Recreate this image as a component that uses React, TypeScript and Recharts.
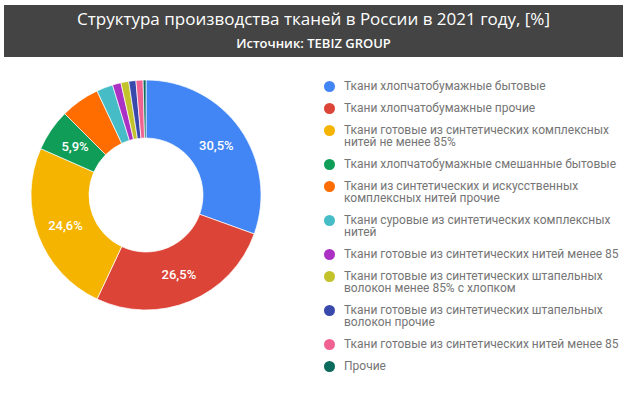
import React from 'react';
import { PieChart, Pie, Cell, Legend } from 'recharts';

const categories = [
  'Ткани хлопчатобумажные бытовые',
  'Ткани хлопчатобумажные прочие',
  'Ткани готовые из синтетических комплексных нитей не менее 85%',
  'Ткани хлопчатобумажные смешанные бытовые',
  'Ткани из синтетических и искусственных комплексных нитей прочие',
  'Ткани суровые из синтетических комплексных нитей',
  'Ткани готовые из синтетических нитей менее 85',
  'Ткани готовые из синтетических штапельных волокон менее 85% с хлопком',
  'Ткани готовые из синтетических штапельных волокон прочие',
  'Ткани готовые из синтетических нитей менее 85',
  'Прочие',
];

const shares = [30.5, 26.5, 24.6, 5.9, 5.5, 2.3, 1.2, 1.1, 1.0, 1.0, 0.4];

const COLORS = [
  '#4285f4', '#db4437', '#f4b400', '#0f9d58', '#ff6d01', '#46bdc6',
  '#ab30c4', '#c2c22b', '#3949ab', '#f06292', '#0b6b5c',
];

const TITLE = 'Структура производства тканей в России в 2021 году, [%]';
const SUBTITLE = 'Источник: TEBIZ GROUP';

const data = categories.map((name, i) => ({ name, value: shares[i] }));

const RADIAN = Math.PI / 180;

// only the big slices get a text label, like the original
const renderLabel = (props: any) => {
  const { cx, cy, midAngle, innerRadius, outerRadius, value } = props;
  if (value < 5.8) return null;
  const r = (innerRadius + outerRadius) / 2;
  const x = cx + r * Math.cos(-midAngle * RADIAN);
  const y = cy + r * Math.sin(-midAngle * RADIAN);
  return (
    <text x={x} y={y} fill="#fff" textAnchor="middle" dominantBaseline="central"
      fontFamily="Roboto" fontSize={13} fontWeight={500}>
      {value.toFixed(1).replace('.', ',') + '%'}
    </text>
  );
};

const renderLegend = () => (
  <div style={{ fontFamily: 'Roboto', fontSize: 12, lineHeight: '12px', color: '#757575' }}>
    {data.map((d, i) => (
      <div key={i} style={{ display: 'flex', alignItems: 'flex-start', marginBottom: 10 }}>
        <span style={{
          width: 11, height: 11, borderRadius: '50%', background: COLORS[i],
          flex: '0 0 11px', marginTop: 0.5, marginRight: 9,
        }} />
        <span style={{ width: 280 }}>{d.name}</span>
      </div>
    ))}
  </div>
);

export default function App() {
  return (
    <div style={{ position: 'absolute', left: 0, top: 0, width: 627, height: 405, background: '#fff' }}>
      <div style={{
        position: 'absolute', left: 4, top: 5, width: 619, height: 52, background: '#444444',
        color: '#fff', textAlign: 'center', fontFamily: 'Open Sans',
      }}>
        <div style={{ fontSize: 17, marginTop: 4, lineHeight: '20px' }}>{TITLE}</div>
        <div style={{ fontSize: 13, fontWeight: 600, marginTop: 6, lineHeight: '16px' }}>{SUBTITLE}</div>
      </div>
      <div style={{ position: 'absolute', left: 0, top: 0 }}>
        <PieChart width={627} height={405} margin={{ top: 0, right: 0, bottom: 0, left: 0 }}>
          <Pie
            data={data}
            dataKey="value"
            nameKey="name"
            cx={146}
            cy={195}
            innerRadius={57}
            outerRadius={115}
            startAngle={90}
            endAngle={-270}
            stroke="#fff"
            strokeWidth={0.7}
            label={renderLabel}
            labelLine={false}
            isAnimationActive={false}
          >
            {data.map((_, i) => (
              <Cell key={`cell-${i}`} fill={COLORS[i]} />
            ))}
          </Pie>
          <Legend
            content={renderLegend}
            wrapperStyle={{ position: 'absolute', left: 324, top: 80, width: 300 }}
          />
        </PieChart>
      </div>
    </div>
  );
}
